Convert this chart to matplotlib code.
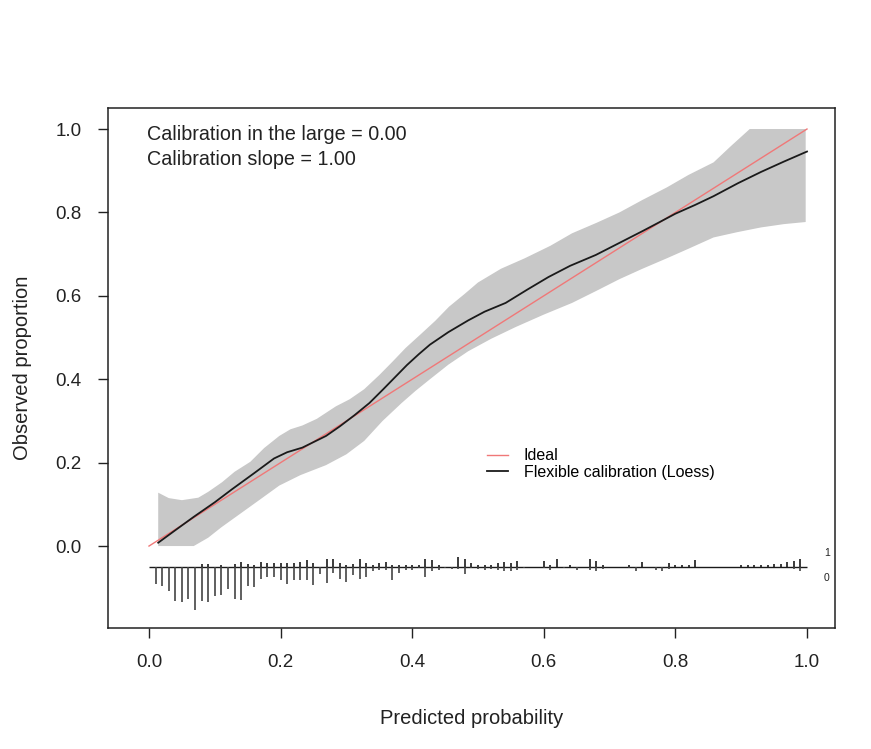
import numpy as np
import matplotlib
matplotlib.use("Agg")
import matplotlib.pyplot as plt

plt.rcParams["font.family"] = ["Liberation Sans", "DejaVu Sans"]

# flexible (loess) calibration curve
curve_x = [0.014, 0.04, 0.068, 0.1, 0.126, 0.16, 0.19, 0.21, 0.233, 0.269, 0.29,
           0.3125, 0.335, 0.356, 0.374, 0.392, 0.41, 0.427, 0.455, 0.485, 0.51,
           0.542, 0.575, 0.607, 0.64, 0.679, 0.715, 0.751, 0.775, 0.80, 0.83,
           0.858, 0.895, 0.93, 0.965, 1.0]
curve_y = [0.008, 0.038, 0.07, 0.105, 0.136, 0.175, 0.21, 0.225, 0.236, 0.264, 0.287,
           0.314, 0.343, 0.376, 0.405, 0.434, 0.46, 0.483, 0.513, 0.541, 0.562,
           0.583, 0.615, 0.645, 0.672, 0.698, 0.727, 0.756, 0.776, 0.797, 0.818,
           0.839, 0.87, 0.897, 0.922, 0.946]

# confidence band, upper and lower edges
upper_x = [0.014, 0.03, 0.05, 0.075, 0.09, 0.111, 0.13, 0.154, 0.175, 0.198, 0.215,
           0.233, 0.255, 0.284, 0.305, 0.327, 0.35, 0.37, 0.39, 0.413, 0.435, 0.456,
           0.48, 0.5, 0.535, 0.571, 0.61, 0.643, 0.68, 0.715, 0.75, 0.787, 0.82,
           0.858, 0.885, 0.913, 0.998]
upper_y = [0.128, 0.115, 0.11, 0.116, 0.13, 0.153, 0.178, 0.202, 0.235, 0.264, 0.28,
           0.289, 0.305, 0.335, 0.352, 0.376, 0.41, 0.442, 0.475, 0.508, 0.54, 0.574,
           0.605, 0.632, 0.665, 0.69, 0.72, 0.75, 0.775, 0.80, 0.83, 0.86, 0.89,
           0.92, 0.96, 1.0, 1.0]
lower_x = [0.014, 0.068, 0.09, 0.11, 0.14, 0.17, 0.198, 0.23, 0.269, 0.3, 0.327,
           0.355, 0.384, 0.405, 0.427, 0.455, 0.485, 0.52, 0.557, 0.6, 0.643, 0.68,
           0.715, 0.75, 0.787, 0.82, 0.858, 0.895, 0.93, 0.965, 0.998]
lower_y = [0.0, 0.0, 0.02, 0.045, 0.079, 0.113, 0.145, 0.17, 0.194, 0.22, 0.252,
           0.3, 0.343, 0.372, 0.40, 0.435, 0.467, 0.497, 0.525, 0.555, 0.583, 0.612,
           0.64, 0.665, 0.69, 0.713, 0.74, 0.753, 0.764, 0.772, 0.777]

# spike histogram: bins 0.01..0.99, relative counts of events (up) / non-events (down)
spike_x = [i / 100 for i in range(1, 100)]
spike_down = [17, 19, 24, 34, 35, 32, 43, 34, 35, 29, 28, 22, 32, 33, 19, 20,
              12, 10, 10, 13, 17, 13, 13, 13, 18, 7, 16, 6, 12, 15, 8, 12, 10, 4, 3,
              3, 13, 6, 3, 3, 1, 10, 4, 3, 1, 2, 2, 7, 1, 2, 3, 2,
              3, 4, 4, 3, 1, 0, 0, 1, 3, 0, 1, 0, 3, 0, 3, 4, 2,
              0, 0, 0, 1, 4, 0, 0, 3, 4, 2, 0, 0, 0, 0, 0, 0, 0, 0, 0,
              0, 0, 0, 0, 0, 0, 0, 0, 0, 2, 4]
spike_up = [0, 0, 0, 0, 0, 0, 0, 3, 3, 0, 2, 0, 3, 5, 3, 2,
            5, 4, 4, 4, 4, 4, 5, 7, 4, 0, 8, 8, 4, 2, 3, 8, 4, 2, 4,
            5, 2, 2, 2, 2, 2, 8, 7, 2, 0, 0, 10, 8, 4, 2, 2, 2,
            4, 5, 4, 6, 0, 0, 0, 6, 2, 8, 0, 2, 0, 0, 8, 6, 2,
            0, 0, 0, 2, 0, 5, 0, 0, 0, 4, 2, 2, 2, 7, 0, 0, 0, 0, 0,
            0, 2, 2, 2, 2, 2, 3, 3, 5, 6, 8]

stats_text = ["Calibration in the large = 0.00", "Calibration slope = 1.00"]
ticks = [0.0, 0.2, 0.4, 0.6, 0.8, 1.0]

fig = plt.figure(figsize=(8.71, 7.49), dpi=100)
ax = fig.add_axes([0.124, 0.1615, 0.8347, 0.6943])

ax.fill(upper_x + lower_x[::-1], upper_y + lower_y[::-1], color="#c8c8c8", lw=0, zorder=1)
ax.plot([0, 1], [0, 1], color="#f07878", lw=1.0, label="Ideal", zorder=2)
ax.plot(curve_x, curve_y, color="#1a1a1a", lw=1.3, label="Flexible calibration (Loess)", zorder=3)

# spike histogram below the curve
base = -0.05
scale = 0.103 / max(spike_down)
ax.hlines(base, 0, 1, color="#1a1a1a", lw=1.0)
sx = np.array(spike_x)
ax.vlines(sx, base, base + np.array(spike_up) * scale, color="#1a1a1a", lw=1.2)
ax.vlines(sx, base - np.array(spike_down) * scale, base, color="#444444", lw=1.2)
ax.text(1.03, -0.017, "1", fontsize=7.5, ha="center", va="center", color="#222222")
ax.text(1.03, -0.077, "0", fontsize=7.5, ha="center", va="center", color="#222222")

ax.text(-0.003, 0.986, stats_text[0], fontsize=14.2, ha="left", va="center", color="#222222")
ax.text(-0.003, 0.926, stats_text[1], fontsize=14.2, ha="left", va="center", color="#222222")

ax.set_xlim(-0.0623, 1.0426)
ax.set_ylim(-0.1966, 1.0504)
ax.set_xticks(ticks)
ax.set_yticks(ticks)
ax.set_xticklabels([f"{t:.1f}" for t in ticks])
ax.set_yticklabels([f"{t:.1f}" for t in ticks])
ax.tick_params(axis="both", direction="out", length=7, width=1, colors="#222222",
               labelsize=13.5)
ax.tick_params(axis="x", pad=12)
ax.tick_params(axis="y", pad=12)
for s in ax.spines.values():
    s.set_linewidth(1.1)
    s.set_color("#222222")

ax.set_xlabel("Predicted probability", fontsize=14.5, labelpad=27, color="#222222")
ax.set_ylabel("Observed proportion", fontsize=14.5, labelpad=17, color="#222222")

ax.legend(loc="center left", bbox_to_anchor=(0.521, 0.315), frameon=False,
          fontsize=11.5, handlelength=1.3, handletextpad=1.0, labelspacing=0.1,
          borderpad=0, borderaxespad=0)

fig.savefig("out.png", dpi=100)
